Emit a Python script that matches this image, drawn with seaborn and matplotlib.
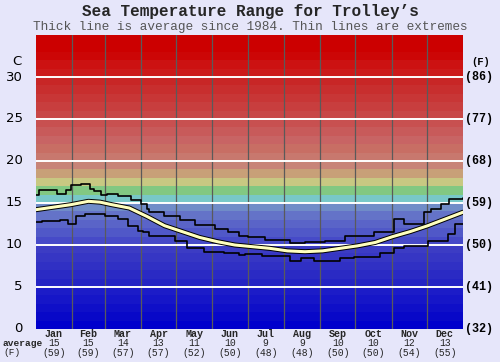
import seaborn as sns
import pandas as pd
import matplotlib.pyplot as plt
import matplotlib.patheffects as pe

OUT_FN = 'out.png'

MONTHS = ['Jan', 'Feb', 'Mar', 'Apr', 'May', 'Jun', 'Jul', 'Aug', 'Sep', 'Oct', 'Nov', 'Dec']
MONTH_DAYS = [31, 28, 31, 30, 31, 30, 31, 31, 30, 31, 30, 31]
AVG_C = [15, 15, 14, 13, 11, 10, 9, 9, 10, 10, 12, 13]
AVG_F = [59, 59, 57, 57, 52, 50, 48, 48, 50, 50, 54, 55]

C_TICKS = [0, 5, 10, 15, 20, 25, 30]
F_LABELS = ['(32)', '(41)', '(50)', '(59)', '(68)', '(77)', '(86)']

# daily series (day of year, deg C)
AVG_DAY = [0, 15, 30, 45, 55, 65, 80, 95, 110, 125, 140, 155, 170, 185, 200,
           215, 230, 245, 260, 275, 290, 305, 320, 335, 350, 365]
AVG_TEMP = [14.2, 14.5, 14.8, 15.2, 15.1, 14.8, 14.4, 13.4, 12.3, 11.6, 10.9, 10.4,
            10.0, 9.8, 9.6, 9.3, 9.2, 9.3, 9.6, 9.9, 10.3, 11.0, 11.6, 12.3, 13.1, 13.9]

MAX_DAY = [0, 3, 18, 26, 30, 39, 46, 50, 56, 61, 70, 81, 90, 95, 97, 110, 123, 136,
           153, 164, 174, 181, 196, 217, 230, 247, 264, 289, 306, 315, 332, 338, 346,
           353, 365]
MAX_TEMP = [16.0, 16.6, 16.1, 16.6, 17.1, 17.3, 16.7, 16.4, 16.0, 16.1, 15.8, 15.3,
            14.9, 14.3, 13.9, 13.5, 13.0, 12.4, 11.9, 11.5, 11.1, 10.9, 10.6, 10.2,
            10.3, 10.5, 11.1, 11.5, 13.1, 12.5, 13.9, 14.3, 14.9, 15.5, 15.6]

MIN_DAY = [0, 5, 21, 28, 34, 42, 59, 70, 79, 87, 92, 97, 119, 129, 144, 161, 174,
           179, 193, 217, 227, 238, 260, 272, 294, 306, 315, 335, 352, 358, 365]
MIN_TEMP = [12.7, 12.9, 13.0, 12.5, 13.5, 13.7, 13.5, 13.1, 12.3, 11.7, 11.5, 11.1,
            10.5, 9.7, 9.2, 9.1, 8.8, 8.9, 8.7, 8.1, 8.5, 8.1, 8.5, 8.6, 9.1, 9.6,
            9.9, 10.5, 11.3, 12.5, 12.5]

# one colour per degree band, 0..35
BAND_RGB = [(0, 0, 204), (8, 8, 200), (15, 15, 200), (22, 22, 200), (28, 28, 200),
            (36, 36, 196), (42, 42, 196), (48, 48, 196), (54, 54, 196), (60, 60, 196),
            (70, 74, 200), (80, 88, 200), (90, 100, 200), (100, 115, 200), (112, 140, 200),
            (120, 200, 200), (130, 200, 130), (200, 200, 130), (200, 160, 120), (200, 132, 120),
            (200, 120, 110), (200, 110, 100), (200, 100, 100), (200, 90, 90), (200, 80, 80),
            (200, 70, 70), (200, 62, 62), (200, 54, 54), (200, 46, 46), (200, 38, 38),
            (204, 26, 26), (204, 18, 18), (204, 6, 6), (204, 0, 0), (204, 0, 0)]


def main():
    sns.set_style('white')
    plt.rcParams['font.family'] = ['DejaVu Sans']
    mono = ['Liberation Mono', 'DejaVu Sans Mono']

    fig = plt.figure(figsize=(5, 3.62), dpi=100, facecolor='#e6e6fa')
    ax = fig.add_axes([0.0714, 0.0912, 0.8546, 0.8121])

    for t, rgb in enumerate(BAND_RGB):
        ax.axhspan(t, t + 1, color=[c / 255 for c in rgb], lw=0, zorder=0)

    bounds = [0]
    for d in MONTH_DAYS:
        bounds.append(bounds[-1] + d)
    for b in bounds[1:-1]:
        ax.axvline(b, color='#5a5a5a', lw=0.9, zorder=1)
    for t in C_TICKS[1:]:
        ax.axhline(t, color='white', lw=1.4, zorder=1)

    df_max = pd.DataFrame({'day': MAX_DAY, 'temp': MAX_TEMP})
    df_min = pd.DataFrame({'day': MIN_DAY, 'temp': MIN_TEMP})
    df_avg = pd.DataFrame({'day': AVG_DAY, 'temp': AVG_TEMP})
    sns.lineplot(data=df_max, x='day', y='temp', ax=ax, color='black', lw=1.2,
                 drawstyle='steps-post', estimator=None, zorder=3)
    sns.lineplot(data=df_min, x='day', y='temp', ax=ax, color='black', lw=1.2,
                 drawstyle='steps-post', estimator=None, zorder=3)
    sns.lineplot(data=df_avg, x='day', y='temp', ax=ax, color='#ffffbe', lw=2.2,
                 estimator=None, zorder=4,
                 path_effects=[pe.Stroke(linewidth=3.6, foreground='black'), pe.Normal()])

    ax.set_xlim(0, 365)
    ax.set_ylim(0, 35)
    ax.set_xticks([])
    ax.set_yticks([])
    ax.set_xlabel('')
    ax.set_ylabel('')
    for s in ax.spines.values():
        s.set_visible(False)

    for t, fl in zip(C_TICKS, F_LABELS):
        ax.text(-11, t, str(t), ha='right', va='center', fontsize=9.5, color='black')
        ax.text(367, t, fl, ha='left', va='center', fontsize=8.5, fontweight='bold',
                family=mono, color='black')
    ax.text(-16, 31.9, 'C', ha='center', va='center', fontsize=9.5, color='black')
    ax.text(380, 31.8, '(F)', ha='center', va='center', fontsize=7.6, fontweight='bold',
            family=mono, color='black')

    for i, m in enumerate(MONTHS):
        cx = (bounds[i] + bounds[i + 1]) / 2
        ax.text(cx, -0.6, m, ha='center', va='center', fontsize=7.2, fontweight='bold',
                family=mono)
        ax.text(cx, -1.7, str(AVG_C[i]), ha='center', va='center', fontsize=7, family=mono)
        ax.text(cx, -2.85, '(%d)' % AVG_F[i], ha='center', va='center', fontsize=7,
                family=mono)
    ax.text(-11.5, -1.75, 'average', ha='center', va='center', fontsize=6.8,
            fontweight='bold', family=mono)
    ax.text(-20, -2.85, '(F)', ha='center', va='center', fontsize=6.8, family=mono)

    fig.text(0.5, 0.967, 'Sea Temperature Range for Trolley\u2019s', ha='center', va='center',
             fontsize=11.5, fontweight='bold', family=mono)
    fig.text(0.5, 0.925, 'Thick line is average since 1984. Thin lines are extremes',
             ha='center', va='center', fontsize=9.2, family=mono, color='#555555')

    fig.savefig(OUT_FN, dpi=100, facecolor=fig.get_facecolor())


if __name__ == '__main__':
    main()
